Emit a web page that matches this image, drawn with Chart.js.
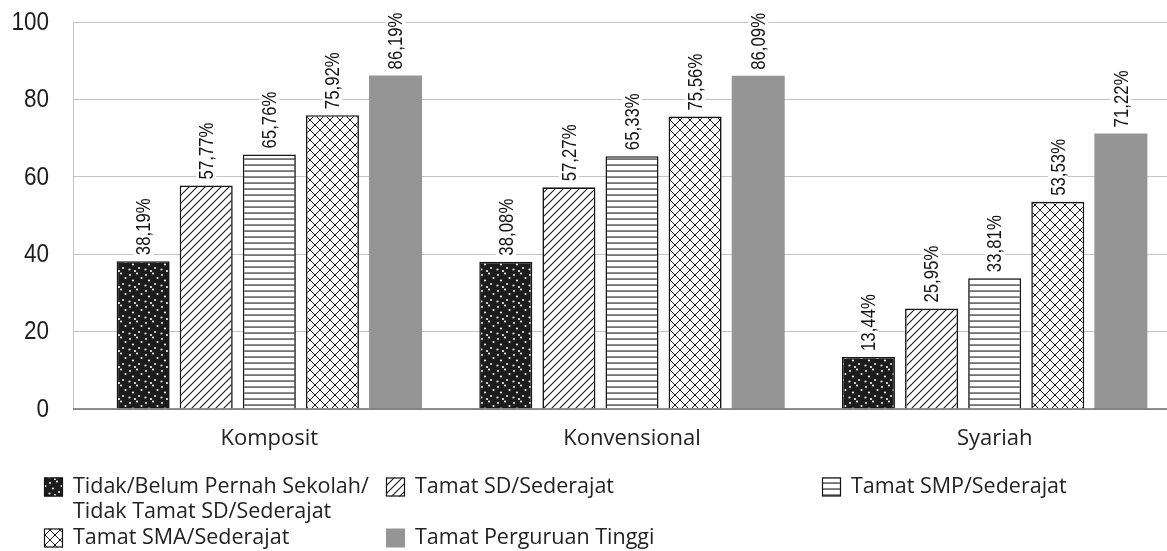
<!DOCTYPE html>
<html>
<head>
<meta charset="utf-8">
<script src="https://cdn.jsdelivr.net/npm/chart.js@4.4.1/dist/chart.umd.min.js"></script>
<style>
  html, body { margin: 0; padding: 0; background: #fff; overflow: hidden; }
  #wrap { width: 1167px; height: 551px; overflow: hidden; position: relative; }
  canvas { display: block; }
</style>
</head>
<body>
<div id="wrap"><canvas id="c" width="1176" height="551"></canvas></div>
<script>
// ---- data ----
const categories = ['Komposit', 'Konvensional', 'Syariah'];
const seriesNames = [
  'Tidak/Belum Pernah Sekolah/|Tidak Tamat SD/Sederajat',
  'Tamat SD/Sederajat',
  'Tamat SMP/Sederajat',
  'Tamat SMA/Sederajat',
  'Tamat Perguruan Tinggi'
];
const belumSekolah = [38.19, 38.08, 13.44];
const tamatSD      = [57.77, 57.27, 25.95];
const tamatSMP     = [65.76, 65.33, 33.81];
const tamatSMA     = [75.92, 75.56, 53.53];
const tamatPT      = [86.19, 86.09, 71.22];
const yTicks = [0, 20, 40, 60, 80, 100];

// ---- fonts & fills ----
const ARIAL = '"Liberation Sans", Arial, sans-serif';
const HUMAN = '"Open Sans", "Noto Sans", sans-serif';
const SQUEEZE = 0.8;      // condensed look for value labels
const TICK_SQUEEZE = 0.9; // condensed look for axis numbers
const ctxMain = document.getElementById('c').getContext('2d');

function makePattern(w, h, bg, draw) {
  const t = document.createElement('canvas');
  t.width = w; t.height = h;
  const x = t.getContext('2d');
  x.fillStyle = bg; x.fillRect(0, 0, w, h);
  draw(x, w, h);
  return ctxMain.createPattern(t, 'repeat');
}

const dotsFill = makePattern(16, 16, '#1c1c1c', (x) => {
  x.fillStyle = '#e6e6e6';
  [[2,3],[9,1.5],[13.5,6],[5,8.5],[11,12],[1.5,13.5],[7,15]].forEach(([a,b]) => {
    x.beginPath(); x.arc(a, b, 1.1, 0, Math.PI * 2); x.fill();
  });
});
const diagFill = makePattern(8, 8, '#ffffff', (x, w, h) => {
  x.strokeStyle = '#1a1a1a'; x.lineWidth = 1.1;
  x.beginPath();
  x.moveTo(-1, h + 1); x.lineTo(w + 1, -1);
  x.moveTo(-1, 1); x.lineTo(1, -1);
  x.moveTo(w - 1, h + 1); x.lineTo(w + 1, h - 1);
  x.stroke();
});
const horizFill = makePattern(6, 6, '#ffffff', (x, w) => {
  x.fillStyle = '#1a1a1a'; x.fillRect(0, 2.5, w, 1.1);
});
const crossFill = makePattern(10, 10, '#ffffff', (x, w, h) => {
  x.strokeStyle = '#1a1a1a'; x.lineWidth = 1;
  x.beginPath();
  x.moveTo(0, 0); x.lineTo(w, h);
  x.moveTo(w, 0); x.lineTo(0, h);
  x.stroke();
});
const greyFill = '#959595';

const seriesValues = [belumSekolah, tamatSD, tamatSMP, tamatSMA, tamatPT];
const seriesFills = [dotsFill, diagFill, horizFill, crossFill, greyFill];

const datasets = seriesValues.map((vals, i) => ({
  label: seriesNames[i].replace('|', ' '),
  data: vals,
  backgroundColor: seriesFills[i],
  borderColor: i === 4 ? greyFill : '#151515',
  borderWidth: i === 4 ? 0 : 1.6,
  borderSkipped: 'bottom',
  categoryPercentage: 0.87,
  barPercentage: 0.84
}));

const fmt = (v) => v.toFixed(2).replace('.', ',') + '%';

// axis extension lines, condensed numbers, value labels and legend
const decor = {
  id: 'decor',
  beforeDatasetsDraw(chart) {
    const { ctx, chartArea: a } = chart;
    const ys = chart.scales.y;
    ctx.save();
    ctx.strokeStyle = '#c4c4c4'; ctx.lineWidth = 1;
    ctx.beginPath();
    ctx.moveTo(a.left - 15 + 0.5, a.top); ctx.lineTo(a.left - 15 + 0.5, a.bottom);
    ctx.stroke();
    // y tick labels
    ctx.font = '25px ' + ARIAL;
    ctx.fillStyle = '#1e1e1e';
    ctx.textAlign = 'right';
    ctx.textBaseline = 'middle';
    ys.ticks.forEach(t => {
      const y = ys.getPixelForValue(t.value);
      ctx.save();
      ctx.translate(49, y + 1);
      ctx.scale(TICK_SQUEEZE, 1);
      ctx.fillText(String(t.value), 0, 0);
      ctx.restore();
    });
    ctx.restore();
  },
  afterDatasetsDraw(chart) {
    const { ctx, chartArea: a } = chart;
    ctx.save();
    ctx.strokeStyle = '#6e6e6e'; ctx.lineWidth = 1.6;
    ctx.beginPath();
    ctx.moveTo(a.left - 15, a.bottom); ctx.lineTo(a.right, a.bottom);
    ctx.stroke();

    ctx.font = '21px ' + ARIAL;
    ctx.textBaseline = 'middle';
    ctx.textAlign = 'left';
    chart.data.datasets.forEach((ds, di) => {
      chart.getDatasetMeta(di).data.forEach((el, i) => {
        const txt = fmt(ds.data[i]);
        const w = ctx.measureText(txt).width * SQUEEZE;
        ctx.save();
        ctx.translate(el.x, el.y - 6);
        ctx.rotate(-Math.PI / 2);
        ctx.fillStyle = '#ffffff';
        ctx.fillRect(-2, -10, w + 4, 20);
        ctx.scale(SQUEEZE, 1);
        ctx.fillStyle = '#151515';
        ctx.fillText(txt, 0, 1);
        ctx.restore();
      });
    });
    ctx.restore();
  },
  afterDraw(chart) {
    const { ctx } = chart;
    const cols = [44, 386, 822];
    const rows = [487, 538];
    const place = [[0, 0], [1, 0], [2, 0], [0, 1], [1, 1]];
    ctx.save();
    ctx.font = '21.5px ' + HUMAN;
    ctx.textBaseline = 'middle';
    ctx.textAlign = 'left';
    seriesNames.forEach((name, i) => {
      const x = cols[place[i][0]], y = rows[place[i][1]];
      const s = 19;
      ctx.fillStyle = seriesFills[i];
      ctx.fillRect(x, y - s / 2, s, s);
      if (i !== 4) {
        ctx.strokeStyle = '#151515'; ctx.lineWidth = 1.2;
        ctx.strokeRect(x + 0.5, y - s / 2 + 0.5, s - 1, s - 1);
      }
      ctx.fillStyle = '#222';
      name.split('|').forEach((line, k) => ctx.fillText(line, x + 29, y + k * 25));
    });
    ctx.restore();
  }
};

new Chart(ctxMain, {
  type: 'bar',
  data: { labels: categories, datasets },
  plugins: [decor],
  options: {
    responsive: false,
    animation: false,
    devicePixelRatio: 1,
    layout: { padding: { top: 22, left: 0, right: 0, bottom: 100 } },
    plugins: { legend: { display: false }, tooltip: { enabled: false } },
    scales: {
      x: {
        offset: true,
        grid: { display: false },
        border: { display: false },
        ticks: { color: '#222', font: { family: HUMAN, size: 22 }, padding: 9 },
        afterFit(scale) { scale.height = 42; }
      },
      y: {
        min: 0, max: 100,
        afterBuildTicks(scale) { scale.ticks = yTicks.map(v => ({ value: v })); },
        grid: { color: '#c4c4c4', lineWidth: 1, tickLength: 15, drawTicks: true },
        border: { display: false },
        ticks: { display: false },
        afterFit(scale) { scale.width = 88; }
      }
    }
  }
});
</script>
</body>
</html>
